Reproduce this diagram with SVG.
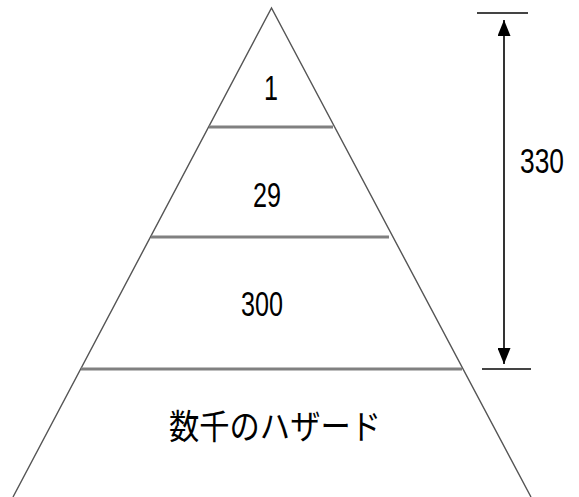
<svg xmlns="http://www.w3.org/2000/svg" width="579" height="497" viewBox="0 0 579 497">
<defs>
<style>
.side{stroke:#555;stroke-width:1.4;fill:none}
.band{stroke:#808080;stroke-width:3;fill:none}
.tick{stroke:#444;stroke-width:2;fill:none}
.dim{stroke:#000;stroke-width:1.6;fill:none}
.num{font-family:"Liberation Sans",Arial,sans-serif;font-size:35px;fill:#000;text-anchor:middle}
.jp{font-family:"Noto Sans CJK JP","Noto Sans CJK SC",sans-serif;font-size:34px;fill:#000;text-anchor:middle}
</style>
<marker id="ah" viewBox="0 0 16 13" refX="16" refY="6.5" markerWidth="16" markerHeight="13" markerUnits="userSpaceOnUse" orient="auto-start-reverse">
<path d="M0,0 L16,6.5 L0,13 Z" fill="#000"/>
</marker>
</defs>
<rect width="579" height="497" fill="#fff"/>
<g id="pyramid">
<path class="side" d="M13,497 L271.5,8 L531,497"/>
</g>
<g id="connectors">
<line class="band" x1="209" y1="127" x2="333" y2="127"/>
<line class="band" x1="151" y1="237" x2="389" y2="237"/>
<line class="band" x1="81" y1="369" x2="462" y2="369"/>
<line class="tick" x1="477" y1="13" x2="528" y2="13"/>
<line class="tick" x1="482" y1="369" x2="531" y2="369"/>
<line class="dim" x1="504" y1="20" x2="504" y2="364" marker-start="url(#ah)" marker-end="url(#ah)"/>
</g>
<g id="tier1"><text class="num" x="271" y="100" textLength="14" lengthAdjust="spacingAndGlyphs">1</text></g>
<g id="tier29"><text class="num" x="267" y="207" textLength="28" lengthAdjust="spacingAndGlyphs">29</text></g>
<g id="tier300"><text class="num" x="262" y="316" textLength="42" lengthAdjust="spacingAndGlyphs">300</text></g>
<g id="base"><text class="jp" x="275" y="439" textLength="212" lengthAdjust="spacingAndGlyphs">数千のハザード</text></g>
<g id="dimlabel"><text class="num" x="542" y="173" textLength="44" lengthAdjust="spacingAndGlyphs">330</text></g>
</svg>
